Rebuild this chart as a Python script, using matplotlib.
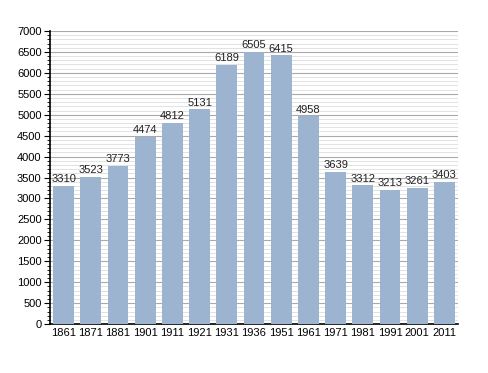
import matplotlib
matplotlib.use("Agg")
import matplotlib.pyplot as plt
from matplotlib.ticker import MultipleLocator

years = ["1861", "1871", "1881", "1901", "1911", "1921", "1931", "1936",
         "1951", "1961", "1971", "1981", "1991", "2001", "2011"]
population = [3310, 3523, 3773, 4474, 4812, 5131, 6189, 6505, 6415, 4958,
              3639, 3312, 3213, 3261, 3403]

plt.rcParams['font.family'] = ['Liberation Sans', 'DejaVu Sans']

fig = plt.figure(figsize=(4.88, 3.73), dpi=100)
ax = fig.add_axes([0.1025, 0.131, 0.836, 0.786])

x = list(range(len(years)))
ax.bar(x, population, width=0.76, color="#9cb4d0", zorder=3)
for xi, v in zip(x, population):
    ax.text(xi, v + 40, str(v), ha="center", va="bottom", fontsize=8, color="#222222", zorder=4)

ax.set_xlim(-0.5, len(years) - 0.5)
ax.set_ylim(0, 7000)
ax.yaxis.set_major_locator(MultipleLocator(500))
ax.yaxis.set_minor_locator(MultipleLocator(100))
ax.grid(which="major", axis="y", color="#aaaaaa", linewidth=0.8, zorder=1)
ax.grid(which="minor", axis="y", color="#dddddd", linewidth=0.6, zorder=0)
ax.set_xticks(x)
ax.set_xticklabels(years)
ax.tick_params(axis="x", length=0, labelsize=8, pad=3)
ax.tick_params(axis="y", which="major", length=4, width=0.8, labelsize=8, pad=2)
ax.tick_params(axis="y", which="minor", length=2, width=0.6)
for s in ["top", "right"]:
    ax.spines[s].set_visible(False)
ax.spines["left"].set_linewidth(1.2)
ax.spines["bottom"].set_linewidth(1.2)

fig.savefig("out.png", dpi=100)
